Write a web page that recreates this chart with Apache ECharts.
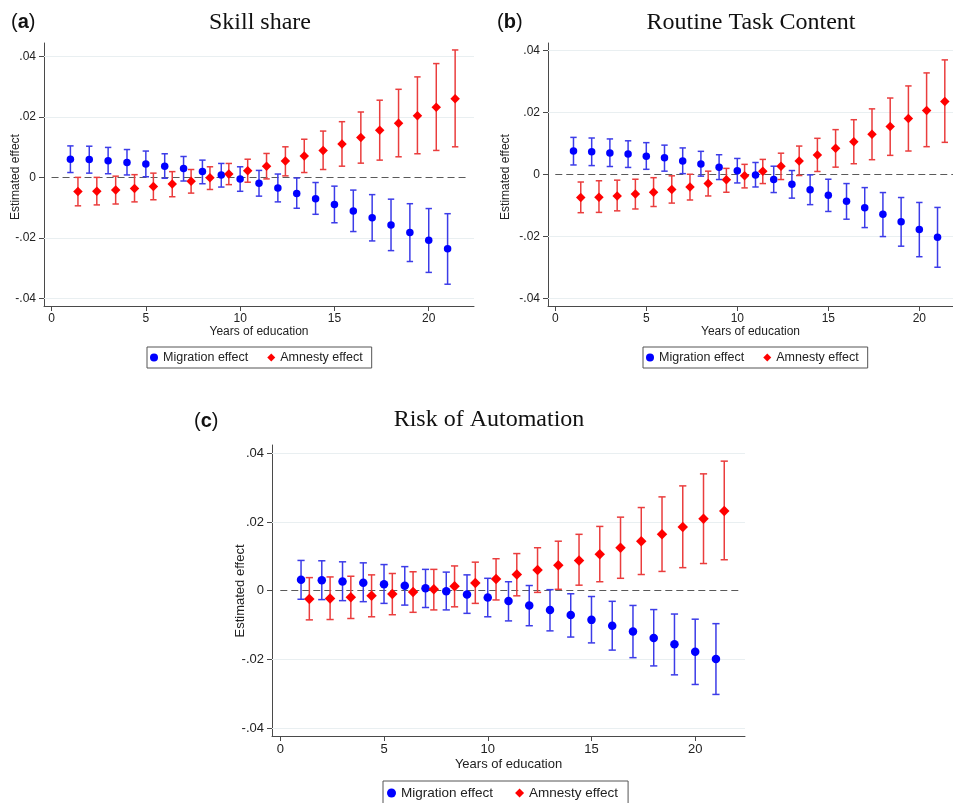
<!DOCTYPE html>
<html><head><meta charset="utf-8">
<script src="https://cdn.jsdelivr.net/npm/echarts@6/dist/echarts.min.js"></script>
<style>html,body{margin:0;padding:0;background:#fff}#c{width:953px;height:803px}</style>
</head><body><div id="c"></div>
<script>
// ---- data ----
const years = [1,2,3,4,5,6,7,8,9,10,11,12,13,14,15,16,17,18,19,20,21];
const amnestyYears = [1.4,2.4,3.4,4.4,5.4,6.4,7.4,8.4,9.4,10.4,11.4,12.4,13.4,14.4,15.4,16.4,17.4,18.4,19.4,20.4,21.4];
const xTicks = [0,5,10,15,20];
const yTicks = [-0.04,-0.02,0,0.02,0.04];
const legendNames = ['Migration effect','Amnesty effect'];
const panelTitles = ['Skill share','Routine Task Content','Risk of Automation'];
const panelLetters = ['a','b','c'];
const xAxisTitle = 'Years of education';
const yAxisTitle = 'Estimated effect';

// (a) Skill share
const skillMig   = [0.0060,0.0059,0.0055,0.0049,0.0044,0.0037,0.0029,0.0019,0.0008,-0.0005,-0.0019,-0.0035,-0.0053,-0.0071,-0.0090,-0.0111,-0.0133,-0.0157,-0.0182,-0.0208,-0.0236];
const skillMigLo = [0.0016,0.0014,0.0012,0.0008,0.0002,-0.0003,-0.0012,-0.0021,-0.0032,-0.0046,-0.0062,-0.0081,-0.0102,-0.0122,-0.0150,-0.0179,-0.0210,-0.0242,-0.0278,-0.0314,-0.0353];
const skillMigHi = [0.0104,0.0103,0.0099,0.0092,0.0087,0.0078,0.0069,0.0057,0.0046,0.0035,0.0023,0.0011,-0.0002,-0.0017,-0.0029,-0.0042,-0.0057,-0.0072,-0.0087,-0.0103,-0.0120];
const skillAmn   = [-0.0047,-0.0046,-0.0042,-0.0037,-0.0030,-0.0022,-0.0013,-0.0001,0.0011,0.0022,0.0037,0.0054,0.0071,0.0089,0.0110,0.0132,0.0156,0.0179,0.0204,0.0232,0.0260];
const skillAmnLo = [-0.0094,-0.0091,-0.0088,-0.0081,-0.0074,-0.0064,-0.0052,-0.0040,-0.0024,-0.0016,-0.0005,0.0005,0.0016,0.0026,0.0037,0.0047,0.0057,0.0068,0.0078,0.0089,0.0101];
const skillAmnHi = [0.0000,0.0000,0.0004,0.0009,0.0014,0.0019,0.0026,0.0035,0.0046,0.0060,0.0079,0.0101,0.0126,0.0153,0.0184,0.0216,0.0255,0.0291,0.0332,0.0376,0.0421];

// (b) Routine Task Content
const rtcMig   = [0.0075,0.0073,0.0069,0.0065,0.0058,0.0053,0.0043,0.0033,0.0023,0.0011,-0.0002,-0.0017,-0.0032,-0.0050,-0.0068,-0.0087,-0.0108,-0.0129,-0.0153,-0.0178,-0.0203];
const rtcMigLo = [0.0030,0.0028,0.0025,0.0022,0.0016,0.0010,0.0002,-0.0006,-0.0017,-0.0028,-0.0041,-0.0059,-0.0077,-0.0098,-0.0120,-0.0145,-0.0172,-0.0201,-0.0232,-0.0266,-0.0300];
const rtcMigHi = [0.0119,0.0117,0.0114,0.0108,0.0102,0.0094,0.0085,0.0074,0.0063,0.0051,0.0038,0.0026,0.0012,-0.0002,-0.0016,-0.0030,-0.0043,-0.0059,-0.0075,-0.0091,-0.0107];
const rtcAmn   = [-0.0075,-0.0074,-0.0070,-0.0064,-0.0058,-0.0049,-0.0041,-0.0030,-0.0018,-0.0005,0.0010,0.0026,0.0043,0.0062,0.0084,0.0105,0.0129,0.0154,0.0180,0.0206,0.0235];
const rtcAmnLo = [-0.0124,-0.0123,-0.0118,-0.0112,-0.0104,-0.0093,-0.0083,-0.0070,-0.0058,-0.0044,-0.0030,-0.0017,-0.0004,0.0009,0.0023,0.0034,0.0047,0.0061,0.0075,0.0089,0.0103];
const rtcAmnHi = [-0.0025,-0.0021,-0.0019,-0.0016,-0.0011,-0.0005,0.0000,0.0010,0.0019,0.0032,0.0048,0.0068,0.0091,0.0116,0.0144,0.0176,0.0211,0.0246,0.0285,0.0327,0.0369];

// (c) Risk of Automation
const autoMig   = [0.0032,0.0030,0.0027,0.0023,0.0019,0.0014,0.0007,-0.0002,-0.0011,-0.0020,-0.0030,-0.0043,-0.0056,-0.0071,-0.0085,-0.0102,-0.0119,-0.0138,-0.0156,-0.0178,-0.0199];
const autoMigLo = [-0.0025,-0.0026,-0.0029,-0.0032,-0.0037,-0.0042,-0.0049,-0.0056,-0.0066,-0.0076,-0.0088,-0.0102,-0.0117,-0.0135,-0.0152,-0.0173,-0.0195,-0.0219,-0.0245,-0.0273,-0.0302];
const autoMigHi = [0.0088,0.0087,0.0084,0.0081,0.0076,0.0070,0.0062,0.0054,0.0046,0.0036,0.0026,0.0015,0.0003,-0.0009,-0.0017,-0.0031,-0.0043,-0.0055,-0.0068,-0.0083,-0.0096];
const autoAmn   = [-0.0024,-0.0023,-0.0019,-0.0015,-0.0010,-0.0004,0.0004,0.0013,0.0022,0.0034,0.0047,0.0060,0.0074,0.0088,0.0106,0.0125,0.0144,0.0164,0.0185,0.0209,0.0232];
const autoAmnLo = [-0.0085,-0.0084,-0.0081,-0.0076,-0.0070,-0.0063,-0.0056,-0.0047,-0.0037,-0.0027,-0.0015,-0.0005,0.0004,0.0016,0.0026,0.0036,0.0047,0.0056,0.0067,0.0079,0.0090];
const autoAmnHi = [0.0038,0.0040,0.0042,0.0046,0.0050,0.0055,0.0062,0.0072,0.0083,0.0093,0.0108,0.0125,0.0144,0.0164,0.0187,0.0214,0.0242,0.0273,0.0305,0.0340,0.0377];

// ---- layout / style ----
const SANS = '"Liberation Sans", Arial, sans-serif';
const SERIF = '"Liberation Serif", "Times New Roman", serif';
const BLUE = '#0000ff', RED = '#ff0000';
const BLUE_BAR = '#3c3ce8', RED_BAR = '#ea3d3d';
const AXIS_C = '#4a4a4a', GRID_C = '#e9eff1';

const panels = [
  {grid:{left:44, top:43, width:430, height:263}, xmax:22.4, ymin:-0.0425, ymax:0.0444, fs:12, xNameGap:19, mk:7.5, dm:9.5, cap:3.2,
   mig:[skillMig,skillMigLo,skillMigHi], amn:[skillAmn,skillAmnLo,skillAmnHi],
   title:{x:260, y:23}, label:{x:11, y:22}, ytitle:{x:16, y:177}, legend:{left:147, top:347}},
  {grid:{left:548, top:43, width:405, height:263}, xmax:21.85, ymin:-0.0425, ymax:0.04235, fs:12, xNameGap:19, mk:7.5, dm:9.5, cap:3.2,
   mig:[rtcMig,rtcMigLo,rtcMigHi], amn:[rtcAmn,rtcAmnLo,rtcAmnHi],
   title:{x:751, y:23}, label:{x:497, y:22}, ytitle:{x:506, y:177}, legend:{left:643, top:347}},
  {grid:{left:272, top:445, width:473, height:291}, xmax:22.4, ymin:-0.0423, ymax:0.0424, fs:13, xNameGap:22, mk:8.5, dm:10.5, cap:3.6,
   mig:[autoMig,autoMigLo,autoMigHi], amn:[autoAmn,autoAmnLo,autoAmnHi],
   title:{x:489, y:420}, label:{x:194, y:421}, ytitle:{x:240, y:591}, legend:{left:383, top:781}}
];

function yFmt(v){
  if (Math.abs(v) < 1e-9) return '0';
  return (v < 0 ? '-' : '') + Math.abs(v).toFixed(2).replace(/^0/, '');
}

function errRenderer(color, cap){
  return function(params, api){
    const x = api.value(0), lo = api.value(1), hi = api.value(2);
    const p1 = api.coord([x, hi]), p2 = api.coord([x, lo]);
    const st = {stroke: color, lineWidth: 1.5};
    return {type:'group', children:[
      {type:'line', shape:{x1:p1[0], y1:p1[1], x2:p2[0], y2:p2[1]}, style:st},
      {type:'line', shape:{x1:p1[0]-cap, y1:p1[1], x2:p1[0]+cap, y2:p1[1]}, style:st},
      {type:'line', shape:{x1:p2[0]-cap, y1:p2[1], x2:p2[0]+cap, y2:p2[1]}, style:st}
    ]};
  };
}

const grids = [], xAxes = [], yAxes = [], series = [], legends = [], graphics = [];
panels.forEach((p, i) => {
  grids.push(Object.assign({containLabel:false}, p.grid));
  xAxes.push({
    gridIndex:i, type:'value', min:-0.4, max:p.xmax,
    axisLine:{show:true, onZero:false, lineStyle:{color:AXIS_C, width:1}},
    axisTick:{show:true, customValues:xTicks, length:5, lineStyle:{color:AXIS_C}},
    axisLabel:{customValues:xTicks, fontSize:p.fs, color:'#222', fontFamily:SANS, margin:7},
    splitLine:{show:false},
    name:xAxisTitle, nameLocation:'middle', nameGap:p.xNameGap,
    nameTextStyle:{fontSize:p.fs, color:'#222', fontFamily:SANS}
  });
  yAxes.push({
    gridIndex:i, type:'value', min:p.ymin, max:p.ymax,
    axisLine:{show:true, onZero:false, lineStyle:{color:AXIS_C, width:1}},
    axisTick:{show:true, customValues:yTicks, length:5, lineStyle:{color:AXIS_C}},
    axisLabel:{customValues:yTicks, formatter:yFmt, fontSize:p.fs, color:'#222', fontFamily:SANS, margin:8},
    splitLine:{show:false}
  });
  // grid lines + zero reference line
  series.push({
    type:'scatter', xAxisIndex:i, yAxisIndex:i, data:[], silent:true, z:0,
    markLine:{silent:true, symbol:'none', animation:false, z:1, label:{show:false},
      data: yTicks.filter(v => v !== 0).map(v => ({yAxis:v, lineStyle:{color:GRID_C, width:1, type:'solid'}}))
        .concat([[{xAxis:0, yAxis:0, lineStyle:{color:'#5a5a5a', width:1.2, type:[7,4]}}, {xAxis:Math.min(22.1, p.xmax), yAxis:0}]])
    }
  });
  series.push({
    type:'custom', name:'mig-ci-'+i, xAxisIndex:i, yAxisIndex:i, z:2, clip:false,
    renderItem: errRenderer(BLUE_BAR, p.cap), encode:{x:0, y:[1,2]},
    data: years.map((x, k) => [x, p.mig[1][k], p.mig[2][k]])
  });
  series.push({
    type:'custom', name:'amn-ci-'+i, xAxisIndex:i, yAxisIndex:i, z:2, clip:false,
    renderItem: errRenderer(RED_BAR, p.cap), encode:{x:0, y:[1,2]},
    data: amnestyYears.map((x, k) => [x, p.amn[1][k], p.amn[2][k]])
  });
  series.push({
    type:'scatter', name:legendNames[0], xAxisIndex:i, yAxisIndex:i, z:3,
    symbol:'circle', symbolSize:p.mk, itemStyle:{color:BLUE, opacity:1},
    data: years.map((x, k) => [x, p.mig[0][k]])
  });
  series.push({
    type:'scatter', name:legendNames[1], xAxisIndex:i, yAxisIndex:i, z:3,
    symbol:'diamond', symbolSize:p.dm, itemStyle:{color:RED, opacity:1},
    data: amnestyYears.map((x, k) => [x, p.amn[0][k]])
  });
  legends.push({
    left:p.legend.left, top:p.legend.top, orient:'horizontal',
    backgroundColor:'#fff', borderColor:'#555', borderWidth:1, borderRadius:0,
    padding: i === 2 ? [5,10,5,4] : [4,9,4,3],
    itemGap: i === 2 ? 22 : 19, itemWidth: i === 2 ? 9 : 8, itemHeight: i === 2 ? 9 : 8,
    selectedMode:false,
    textStyle:{fontSize: i === 2 ? 13.5 : 12.5, color:'#222', fontFamily:SANS},
    data:[{name:legendNames[0], icon:'circle'}, {name:legendNames[1], icon:'diamond'}]
  });
  graphics.push({
    type:'text', x:p.title.x, y:p.title.y,
    style:{text:panelTitles[i], font:'24px ' + SERIF, fill:'#111', textAlign:'center', textVerticalAlign:'middle'}
  });
  graphics.push({
    type:'text', x:p.label.x, y:p.label.y,
    style:{text:'{p|(}{b|' + panelLetters[i] + '}{p|)}', textVerticalAlign:'middle',
      rich:{p:{fontSize:20, fontFamily:SANS, fill:'#111'}, b:{fontSize:20, fontWeight:'bold', fontFamily:SANS, fill:'#111'}}}
  });
  graphics.push({
    type:'text', x:p.ytitle.x, y:p.ytitle.y, rotation:Math.PI/2,
    style:{text:yAxisTitle, font:p.fs + 'px ' + SANS, fill:'#222', textAlign:'center', textVerticalAlign:'middle'}
  });
});

const chart = echarts.init(document.getElementById('c'), null, {renderer:'canvas'});
chart.setOption({
  backgroundColor:'#fff', animation:false,
  grid:grids, xAxis:xAxes, yAxis:yAxes, series:series, legend:legends, graphic:graphics
});
</script></body></html>
